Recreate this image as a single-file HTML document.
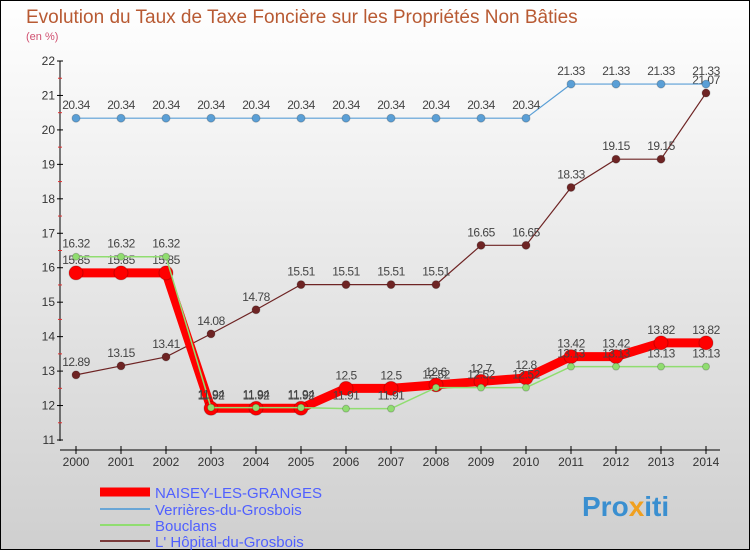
<!DOCTYPE html>
<html><head><meta charset="utf-8"><style>
body{margin:0}
#c{width:750px;height:550px;position:relative;font-family:"Liberation Sans",sans-serif;overflow:hidden}
</style></head><body>
<div id="c">
<svg id="s" width="750" height="550" xmlns="http://www.w3.org/2000/svg">
<defs><linearGradient id="bg" x1="0" y1="0" x2="0" y2="1"><stop offset="0" stop-color="#ffffff"/><stop offset="1" stop-color="#cfcfcf"/></linearGradient></defs>
<rect x="0.5" y="0.5" width="749" height="549" fill="url(#bg)" stroke="#000"/>
<text x="26" y="23" font-size="19" fill="#b85a33">Evolution du Taux de Taxe Foncière sur les Propriétés Non Bâties</text>
<text x="26" y="40" font-size="11" fill="#d05070">(en %)</text>
<g id="axes"></g><g id="series"></g>
<g>
<line x1="100" y1="492" x2="150" y2="492" stroke="#ff0000" stroke-width="9"/>
<text x="155" y="498" font-size="15" fill="#5060ff">NAISEY-LES-GRANGES</text>
<line x1="100" y1="509" x2="150" y2="509" stroke="#6aa6d6" stroke-width="2"/>
<text x="155" y="515" font-size="15" fill="#5060ff">Verrières-du-Grosbois</text>
<line x1="100" y1="525" x2="150" y2="525" stroke="#90dd70" stroke-width="2"/>
<text x="155" y="531" font-size="15" fill="#5060ff">Bouclans</text>
<line x1="100" y1="541" x2="150" y2="541" stroke="#7a3a3a" stroke-width="2"/>
<text x="155" y="547" font-size="15" fill="#5060ff">L' Hôpital-du-Grosbois</text>
</g>
<text x="582" y="516" font-size="28" font-weight="bold" fill="#3a8fd0">Pro<tspan fill="#f0a020">x</tspan>iti</text>
</svg></div>
<script>
const years=["2000","2001","2002","2003","2004","2005","2006","2007","2008","2009","2010","2011","2012","2013","2014"];
const yTicks=[11,12,13,14,15,16,17,18,19,20,21,22];
const naisey=[15.85,15.85,15.85,11.92,11.92,11.92,12.5,12.5,12.6,12.7,12.8,13.42,13.42,13.82,13.82];
const verrieres=[20.34,20.34,20.34,20.34,20.34,20.34,20.34,20.34,20.34,20.34,20.34,21.33,21.33,21.33,21.33];
const bouclans=[16.32,16.32,16.32,11.94,11.94,11.94,11.91,11.91,12.52,12.52,12.52,13.13,13.13,13.13,13.13];
const hopital=[12.89,13.15,13.41,14.08,14.78,15.51,15.51,15.51,15.51,16.65,16.65,18.33,19.15,19.15,21.07];
const NS="http://www.w3.org/2000/svg";
const X=i=>76+i*45, Y=v=>440-(v-11)*(379/11);
function mk(t,a,p){const e=document.createElementNS(NS,t);for(const k in a)e.setAttribute(k,a[k]);p.appendChild(e);return e;}
const ax=document.getElementById('axes'), sg=document.getElementById('series');
mk('line',{x1:60,y1:Y(22),x2:60,y2:441,stroke:'#000'},ax);
mk('line',{x1:60,y1:450,x2:720,y2:450,stroke:'#000'},ax);
yTicks.forEach(v=>{mk('line',{x1:57,y1:Y(v),x2:63,y2:Y(v),stroke:'#000'},ax);
 if(v<22)mk('line',{x1:58,y1:Y(v+0.5),x2:62,y2:Y(v+0.5),stroke:'#e03030'},ax);
 const t=mk('text',{x:55,y:Y(v)+4,'font-size':12,'text-anchor':'end',fill:'#333'},ax);t.textContent=v;
 });
years.forEach((y,i)=>{mk('line',{x1:X(i),y1:446,x2:X(i),y2:454,stroke:'#000'},ax);
 const t=mk('text',{x:X(i),y:466,'font-size':12,'text-anchor':'middle',fill:'#333'},ax);t.textContent=y;
 });
function series(d,name,col,w,r,lab,dy){
 const g=mk('g',{},sg);
 mk('polyline',{points:d.map((v,i)=>X(i)+','+Y(v)).join(' '),fill:'none',stroke:col,'stroke-width':w},g);
 d.forEach((v,i)=>{const c=mk('circle',{cx:X(i),cy:Y(v),r:r,fill:col,stroke:'rgba(0,0,0,0.2)'},g);
  
  const t=mk('text',{x:X(i),y:Y(v)+dy,'font-size':12,'text-anchor':'middle',fill:'#444','letter-spacing':'-0.5'},g);t.textContent=v;
  });
}
series(hopital,'hopital-series','#6e2424',1.2,4,true,-9);
series(verrieres,'verrieres-series','#5a9fd6',1.2,4,true,-9);
series(naisey,'naisey-series','#ff0000',9,7,true,-9);
series(bouclans,'bouclans-series','#90dd70',1.5,3.5,true,-9);
</script>
</body></html>
